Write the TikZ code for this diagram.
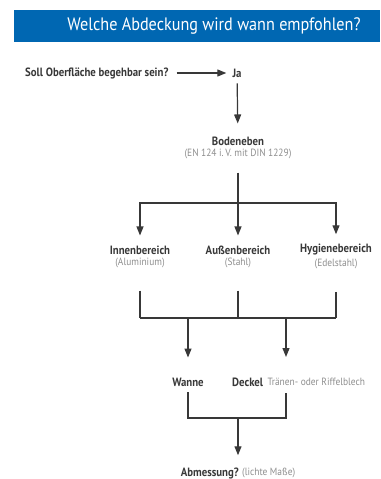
\documentclass[tikz,border=0pt]{standalone}
\usepackage{fontspec}
\setmainfont[FakeStretch=0.9]{PT Sans}
\usetikzlibrary{arrows.meta, positioning, calc}
\definecolor{headblue}{HTML}{0067B2}
\definecolor{textdark}{HTML}{383838}
\definecolor{textgray}{HTML}{8E8E8E}

\begin{document}
\begin{tikzpicture}[
  x=1pt, y=-1pt,
  head/.style={font=\bfseries\fontsize{12}{14}\selectfont, text=textdark, inner sep=1pt},
  sub/.style={font=\fontsize{10.5}{12}\selectfont, text=textgray, inner sep=1pt},
  arr/.style={-{Triangle[length=9pt,width=7pt]}, line width=1.2pt, textdark},
  ln/.style={line width=1.2pt, textdark}
]
\useasboundingbox (0,0) rectangle (380,479);

% header
\fill[headblue] (14,10) rectangle (380,41.5);
\node[text=white, font=\fontsize{18}{20}\selectfont] (title) at (214,25.5) {Welche Abdeckung wird wann empfohlen?};

% question
\node[head, anchor=west] (frage) at (24,73) {Soll Oberfläche begehbar sein?};
\node[head] (ja) at (237,73) {Ja};
\node[head] (boden) at (238,141) {Bodeneben};
\node[sub, below=1pt of boden] (norm) {(EN 124 i.\,V. mit DIN 1229)};

% areas
\node[head] (innen) at (140,250) {Innenbereich};
\node[head] (aussen) at (238,250) {Außenbereich};
\node[head] (hygiene) at (336,250) {Hygienebereich};
\node[sub, below=1pt of innen] (alu) {(Aluminium)};
\node[sub, below=1pt of aussen] (stahl) {(Stahl)};
\node[sub, below=1pt of hygiene] (edel) {(Edelstahl)};

% parts
\node[head] (wanne) at (188,382) {Wanne};
\node[head, anchor=west] (deckel) at (231,382) {Deckel};
\node[sub, right=2pt of deckel] (blech) {Tränen- oder Riffelblech};

% result
\node[head, anchor=east] (abm) at (240,473) {Abmessung?};
\node[sub, right=1pt of abm] (masse) {(lichte Maße)};

% junctions
\coordinate (split) at (238,203);
\coordinate (m1) at (140,318);
\coordinate (m3) at (336,318);
\coordinate (w1) at (188,318);
\coordinate (d1) at (286,318);
\coordinate (d2) at (286,357);
\coordinate (d3) at (286,393);
\coordinate (e1) at (188,418);
\coordinate (e2) at (238,418);

\draw[arr, shorten <=7pt, shorten >=5pt] (frage) -- (ja);
\draw[arr, shorten <=5pt, shorten >=12pt] (ja) -- (boden);
\draw[ln, shorten <=13pt] (norm.south) -- (split);
\draw[arr, shorten >=9pt] (split) -| (innen.north);
\draw[arr, shorten >=9pt] (split) -- (aussen.north);
\draw[arr, shorten >=9pt] (split) -| (hygiene.north);

\draw[ln, shorten <=22pt] (alu.south) -- (alu.south |- m1);
\draw[ln, shorten <=22pt] (stahl.south) -- (stahl.south |- m1);
\draw[ln, shorten <=22pt] (edel.south) -- (edel.south |- m1);
\draw[ln] (m1) -- (m3);
\draw[arr, shorten >=19pt] (w1) -- (wanne.north);
\draw[arr] (d1) -- (d2);

\draw[ln, shorten <=5pt] (wanne.south) -- (e1) -| (d3);
\draw[arr, shorten >=11pt] (e2) -- (abm.north -| e2);
\end{tikzpicture}
\end{document}
